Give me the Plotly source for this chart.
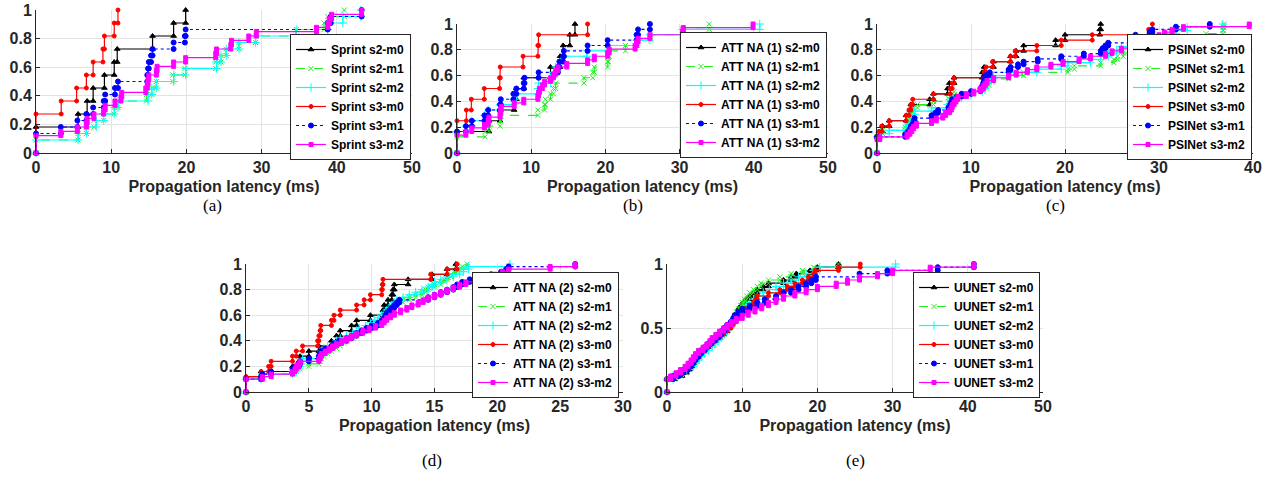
import numpy as np
import plotly.graph_objects as go

# ---------------- data: latency samples (ms) per series ----------------
series_names = ["s2-m0", "s2-m1", "s2-m2", "s3-m0", "s3-m1", "s3-m2"]

# (a) Sprint
sprint_s2_m0 = [0, 0, 5.6, 6.8, 7.6, 9.1, 10.4, 10.8, 15.5, 18.3, 19.9]
sprint_s2_m1 = [0, 0, 5.6, 6.7, 7.7, 9.0, 10.4, 10.9, 14.7, 15.4, 16.0, 18.2, 19.8, 23.9, 24.6, 25.3,
                27.0, 29.2, 34.6, 38.3, 38.8, 41.0]
sprint_s2_m2 = [0, 0, 5.6, 6.7, 8.0, 9.0, 10.4, 10.9, 14.9, 15.4, 16.0, 18.3, 19.9, 24.0, 24.6, 25.3,
                27.0, 29.2, 34.6, 38.8, 40.8, 43.2]
sprint_s3_m0 = [0, 0, 0, 3.35, 5.4, 6.7, 7.6, 8.9, 9.1, 10.4, 10.9]
sprint_s3_m1 = [0, 0, 0, 3.3, 5.5, 6.7, 7.6, 9.0, 9.2, 10.5, 10.9, 14.8, 14.9, 15.0, 15.3, 15.5,
                18.3, 19.8, 19.9, 38.8, 39.2, 43.3]
sprint_s3_m2 = [0, 0, 0, 0, 3.3, 5.5, 6.7, 6.8, 7.7, 9.0, 9.2, 10.5, 11.3, 11.4, 14.6, 14.8, 14.9,
                15.0, 16.0, 16.1, 18.3, 19.9, 23.9, 24.0, 25.9, 26.0, 28.3, 29.3, 37.3, 38.8, 39.0,
                39.3, 43.3]

# (b) ATT NA (1)
att1_s2_m0 = [0, 0, 4.3, 5.8, 7.7, 8.0, 9.0, 12.6, 13.9, 14.3, 15.2, 15.9]
att1_s2_m1 = [0, 0, 0, 3.8, 4.3, 5.8, 5.9, 10.9, 11.8, 11.9, 12.6, 13.0, 13.3, 17.1, 18.3, 18.5,
              20.3, 20.4, 20.5, 22.7, 24.3, 26.1, 30.4, 34.0]
att1_s2_m2 = [0, 0, 0, 0, 1.2, 2.0, 3.7, 4.2, 5.8, 7.6, 8.0, 10.9, 11.0, 12.6, 13.0, 13.3, 14.0,
              14.5, 17.5, 20.3, 24.2, 26.0, 30.4, 40.8]
att1_s3_m0 = [0, 0, 0, 1.26, 1.93, 3.68, 5.74, 5.83, 8.9, 10.9, 11.0, 17.6]
att1_s3_m1 = [0, 0, 0, 0, 1.2, 2.0, 3.7, 4.2, 5.8, 5.9, 7.6, 8.0, 9.0, 9.1, 11.0, 13.6, 13.8, 14.3,
              14.4, 17.6, 20.3, 24.2, 24.4, 26.0]
att1_s3_m2 = [0, 0, 0, 0, 0, 1.2, 2.0, 3.7, 4.2, 4.3, 5.8, 5.9, 5.95, 7.7, 9.0, 10.9, 11.0, 11.1,
              11.5, 11.8, 12.6, 13.0, 13.3, 13.6, 14.8, 17.6, 18.5, 20.3, 20.5, 24.0, 24.2, 24.4,
              26.0, 30.4, 30.5, 39.9]

# (c) PSINet
psi_s2_m0 = [0, 0, 0, 0.2, 0.6, 1.3, 3.1, 3.5, 3.6, 5.6, 6.0, 7.5, 7.7, 8.2, 11.2, 11.4, 12.4,
             14.2, 14.8, 15.6, 19.0, 20.0, 23.7, 23.8]
psi_s2_m1 = [0, 0, 0, 0, 0, 0.2, 0.6, 3.0, 3.2, 3.3, 3.4, 3.5, 3.6, 3.8, 4.3, 6.0, 7.6, 7.9, 8.2,
             11.3, 11.6, 11.9, 12.3, 14.0, 15.6, 20.3, 21.0, 23.8, 25.2, 25.6, 26.2, 27.0, 28.0,
             29.3, 32.0, 34.3, 35.0, 36.8, 36.85, 36.9]
psi_s2_m2 = [0, 0, 0, 0, 0, 0.3, 1.3, 3.1, 3.3, 3.5, 3.7, 3.9, 4.0, 5.8, 7.5, 7.9, 8.0, 9.0, 10.0,
             11.2, 11.5, 11.6, 12.0, 12.4, 14.0, 17.0, 19.6, 20.3, 22.7, 23.8, 24.6, 25.5, 26.0,
             27.0, 28.6, 29.3, 30.5, 31.8, 33.0, 36.8]
psi_s3_m0 = [0, 0, 0, 0.2, 0.5, 1.3, 3.1, 3.4, 3.6, 3.8, 6.0, 7.8, 8.0, 8.2, 11.4, 11.6, 12.3,
             14.2, 14.7, 17.0, 19.6, 22.9, 28.9, 29.3]
psi_s3_m1 = [0, 0, 0, 0, 0, 0, 3.0, 3.3, 3.5, 3.6, 3.8, 3.9, 4.0, 5.8, 6.2, 6.5, 7.6, 7.8, 7.9,
             8.0, 8.5, 9.0, 10.0, 11.0, 11.2, 11.3, 11.4, 11.5, 11.6, 12.0, 14.0, 14.2, 15.0,
             15.6, 17.1, 19.6, 22.0, 23.8, 24.0, 24.3, 24.6, 27.0, 27.3, 27.5, 29.0, 29.3, 31.8,
             35.4]
psi_s3_m2 = [0, 0, 0, 0, 0, 0.3, 3.2, 3.5, 3.7, 3.9, 4.2, 5.8, 6.3, 7.0, 7.3, 7.7, 7.9, 8.0, 8.2,
             8.4, 8.6, 9.5, 10.3, 11.0, 11.3, 11.5, 11.7, 12.4, 14.0, 14.8, 16.0, 17.0, 18.5,
             19.8, 21.5, 22.7, 24.3, 25.0, 26.0, 27.0, 28.2, 28.8, 29.5, 30.0, 30.6, 31.4, 32.6,
             39.6]

# (d) ATT NA (2)
att2_s2_m0 = [0, 0, 0, 1.2, 3.7, 4.2, 4.3, 5.0, 5.8, 6.8, 7.2, 7.5, 8.4, 8.8, 9.9, 10.9, 11.0,
              11.3, 11.6, 11.7, 11.8, 12.9, 14.8, 16.0, 16.7]
att2_s2_m1 = [0, 0, 0, 0, 0, 1.2, 1.3, 3.8, 4.0, 4.3, 5.0, 5.8, 5.9, 6.0, 6.2, 6.5, 6.8, 7.2,
              7.5, 7.8, 8.0, 8.5, 8.8, 9.2, 9.5, 10.0, 10.5, 10.8, 11.0, 11.1, 11.2, 11.3, 11.6,
              11.8, 12.0, 12.5, 13.0, 13.5, 14.0, 14.3, 14.5, 15.0, 15.5, 15.8, 16.0, 16.3, 16.6,
              16.8, 17.2, 17.6]
att2_s2_m2 = [0, 0, 0, 0, 0, 1.2, 1.3, 3.7, 4.0, 4.2, 4.3, 4.4, 4.5, 5.8, 5.9, 6.0, 6.2, 6.5,
              7.0, 7.2, 7.5, 8.0, 8.5, 8.8, 9.0, 9.5, 9.9, 10.2, 10.5, 10.8, 11.0, 11.2, 11.4,
              11.6, 11.8, 12.0, 12.5, 13.0, 13.5, 14.0, 14.5, 14.8, 15.0, 15.5, 16.0, 16.5, 17.0,
              17.3, 17.7, 21.0]
att2_s3_m0 = [0, 0, 0, 1.2, 1.8, 2.0, 3.7, 4.0, 4.5, 5.7, 5.8, 5.9, 5.95, 6.8, 7.0, 7.5, 8.8,
              9.4, 9.9, 10.8, 10.85, 10.9, 14.7, 16.0, 16.8]
att2_s3_m1 = [0, 0, 0, 0, 0, 1.2, 1.3, 2.0, 3.7, 3.9, 4.2, 4.3, 5.0, 5.8, 5.9, 6.0, 6.3, 6.8,
              7.0, 7.4, 8.0, 8.4, 8.8, 9.2, 9.6, 10.0, 10.5, 10.8, 11.0, 11.1, 11.2, 11.4, 11.6,
              11.8, 12.0, 12.2, 14.5, 15.0, 15.5, 16.0, 16.5, 16.8, 17.2, 17.8, 18.6, 19.5, 20.3,
              20.7, 20.9, 26.2]
att2_s3_m2 = [0, 0, 0, 0, 0, 1.3, 2.0, 3.7, 3.9, 4.0, 4.2, 4.3, 5.8, 5.9, 6.0, 6.3, 6.6, 6.9,
              7.2, 7.6, 8.0, 8.4, 8.8, 9.3, 9.8, 10.3, 10.8, 11.0, 11.2, 11.5, 11.8, 12.3, 12.8,
              13.2, 13.7, 14.1, 14.5, 15.0, 15.5, 16.0, 16.5, 17.0, 17.5, 18.2, 19.0, 19.8, 20.4,
              20.9, 24.2, 26.2]

# (e) UUNET
uu_s2_m0 = [0, 0, 0, 0, 1.0, 2.0, 2.6, 3.0, 3.3, 3.6, 3.9, 4.2, 4.6, 5.0, 5.5, 6.0, 6.5, 7.0,
            7.5, 8.0, 8.3, 8.5, 8.8, 9.0, 9.3, 9.5, 9.8, 10.1, 10.5, 11.0, 11.5, 12.0, 12.8,
            13.5, 15.5, 16.5, 17.2, 19.0, 20.0, 22.8]
uu_s2_m1 = [0, 0, 0, 0, 1.0, 1.8, 2.5, 3.0, 3.3, 3.7, 4.0, 4.4, 4.8, 5.2, 5.7, 6.2, 6.7, 7.2,
            7.6, 8.0, 8.3, 8.6, 8.8, 9.0, 9.2, 9.5, 9.8, 10.0, 10.3, 10.6, 11.0, 11.5, 12.0,
            12.5, 13.5, 15.0, 16.5, 18.0, 19.5, 22.8]
uu_s2_m2 = [0, 0, 0, 0, 0.8, 1.5, 2.2, 3.0, 3.5, 3.8, 4.2, 4.6, 5.0, 5.5, 6.0, 6.3, 6.8, 7.2,
            7.6, 8.0, 8.3, 8.6, 9.0, 9.4, 9.8, 10.2, 10.6, 11.0, 11.5, 12.0, 12.8, 13.6, 14.5,
            15.5, 16.5, 17.5, 18.5, 19.5, 20.3, 30.4]
uu_s3_m0 = [0, 0, 0, 0, 0.5, 1.5, 2.0, 2.5, 3.0, 3.4, 3.8, 4.2, 4.6, 5.0, 5.5, 6.0, 6.5, 7.0,
            7.5, 8.0, 8.5, 8.8, 9.2, 9.6, 10.0, 10.5, 11.0, 11.5, 11.8, 12.0, 13.5, 15.0, 16.0,
            17.0, 18.0, 18.8, 19.5, 19.7, 22.8, 25.7]
uu_s3_m1 = [0, 0, 0, 0, 0.8, 1.6, 2.2, 2.8, 3.2, 3.5, 3.8, 4.2, 4.5, 5.0, 5.4, 5.8, 6.3, 6.8,
            7.2, 7.6, 8.0, 8.5, 8.8, 9.0, 9.5, 10.0, 11.0, 12.0, 13.0, 14.5, 15.5, 16.5, 17.5,
            18.5, 19.2, 19.8, 25.6, 29.3, 36.0, 40.8]
uu_s3_m2 = [0, 0, 0, 0, 0.5, 1.2, 1.8, 2.4, 2.8, 3.2, 3.5, 3.8, 4.2, 4.8, 5.3, 5.7, 6.0, 6.5,
            7.0, 7.5, 8.0, 8.6, 9.2, 10.0, 10.8, 11.7, 12.6, 13.5, 14.5, 15.5, 17.0, 18.5, 20.0,
            22.5, 24.0, 25.6, 28.0, 30.0, 35.0, 40.8]

panels = [
    ("Sprint", [sprint_s2_m0, sprint_s2_m1, sprint_s2_m2, sprint_s3_m0, sprint_s3_m1, sprint_s3_m2]),
    ("ATT NA (1)", [att1_s2_m0, att1_s2_m1, att1_s2_m2, att1_s3_m0, att1_s3_m1, att1_s3_m2]),
    ("PSINet", [psi_s2_m0, psi_s2_m1, psi_s2_m2, psi_s3_m0, psi_s3_m1, psi_s3_m2]),
    ("ATT NA (2)", [att2_s2_m0, att2_s2_m1, att2_s2_m2, att2_s3_m0, att2_s3_m1, att2_s3_m2]),
    ("UUNET", [uu_s2_m0, uu_s2_m1, uu_s2_m2, uu_s3_m0, uu_s3_m1, uu_s3_m2]),
]
x_max = [50, 50, 40, 30, 50]
x_dtick = [10, 10, 10, 5, 10]
y_dtick = [0.2, 0.2, 0.2, 0.2, 0.5]
sub_labels = ["(a)", "(b)", "(c)", "(d)", "(e)"]

# ---------------- styling / layout ----------------
W, H = 1276, 479
# plot area pixel boxes (left, right, top, bottom)
boxes = [(36, 412, 10, 153), (457, 828, 24, 153), (877, 1253, 24, 153),
         (246, 623, 264, 392), (667, 1043, 264, 392)]
legend_pos = [(411, 34), (827, 32), (1252, 34), (619, 272), (1040, 272)]
label_pos = [(212, 205), (633, 205), (1055, 205), (432, 460), (855, 460)]

styles = [
    dict(color="#000000", dash="solid", symbol="triangle-up", size=5),
    dict(color="#22ee22", dash="dash", symbol="x-thin", size=5),
    dict(color="#00ffff", dash="solid", symbol="cross-thin", size=6),
    dict(color="#ff0000", dash="solid", symbol="circle", size=4),
    dict(color="#0000ff", dash="dot", symbol="circle", size=5),
    dict(color="#ff00ff", dash="solid", symbol="square", size=4),
]


def staircase(samples):
    s = np.sort(np.asarray(samples, dtype=float))
    n = len(s)
    vals, counts = np.unique(s, return_counts=True)
    cum = np.cumsum(counts) / n
    xs, ys = [vals[0]], [0.0]
    prev = 0.0
    for v, c in zip(vals, cum):
        if xs[-1] != v:
            xs.append(v)
            ys.append(prev)
        xs.append(v)
        ys.append(c)
        prev = c
    return xs, ys


fig = go.Figure()
TXT = "#262626"
FONT = "Liberation Sans, Arial, sans-serif"

for k, (name, data) in enumerate(panels):
    ax = "" if k == 0 else str(k + 1)
    leg = "legend" if k == 0 else f"legend{k + 1}"
    for sname, samples, st in zip(series_names, data, styles):
        xs, ys = staircase(samples)
        mline = dict(color=st["color"], width=1)
        fig.add_trace(go.Scatter(
            x=xs, y=ys, mode="lines+markers", name=f"{name} {sname}",
            xaxis="x" + ax, yaxis="y" + ax, legend=leg, cliponaxis=False,
            line=dict(color=st["color"], width=1.2, dash=st["dash"]),
            marker=dict(symbol=st["symbol"], size=st["size"], color=st["color"], line=mline),
        ))
    l, r, t, b = boxes[k]
    xa = dict(domain=[l / W, r / W], range=[0, x_max[k]], dtick=x_dtick[k], tick0=0,
              anchor="y" + ax, showgrid=True, gridcolor="#e3e3e3", zeroline=False,
              showline=True, linecolor=TXT, linewidth=1, ticks="inside", ticklen=4,
              tickcolor=TXT, automargin=False,
              tickfont=dict(family=FONT, size=16, color=TXT, weight="bold"),
              title=dict(text="Propagation latency (ms)", standoff=5,
                         font=dict(family=FONT, size=16, color=TXT, weight="bold")))
    ya = dict(domain=[1 - b / H, 1 - t / H], range=[0, 1], dtick=y_dtick[k], tick0=0,
              anchor="x" + ax, showgrid=True, gridcolor="#e3e3e3", zeroline=False,
              showline=True, linecolor=TXT, linewidth=1, ticks="inside", ticklen=4,
              tickcolor=TXT, automargin=False,
              tickfont=dict(family=FONT, size=16, color=TXT, weight="bold"))
    fig.update_layout(**{"xaxis" + ax: xa, "yaxis" + ax: ya})
    lx, ly = legend_pos[k]
    fig.update_layout(**{leg: dict(
        x=lx / W, y=1 - ly / H, xanchor="right", yanchor="top", xref="paper", yref="paper",
        bgcolor="white", bordercolor=TXT, borderwidth=1, tracegroupgap=0, itemwidth=30,
        font=dict(family=FONT, size=12, color="#000000", weight="bold"))})
    ax_, ay_ = label_pos[k]
    fig.add_annotation(x=ax_ / W, y=1 - ay_ / H, xref="paper", yref="paper", text=sub_labels[k],
                       xanchor="center", yanchor="middle", showarrow=False,
                       font=dict(family="Liberation Serif, Times New Roman, serif",
                                 size=17, color="#000000"))

fig.update_layout(width=W, height=H, margin=dict(l=0, r=0, t=0, b=0, autoexpand=False),
                  paper_bgcolor="white", plot_bgcolor="white", showlegend=True)
fig.write_html("out.html", config={"displayModeBar": False},
               post_script="document.body.style.margin='0px';")
